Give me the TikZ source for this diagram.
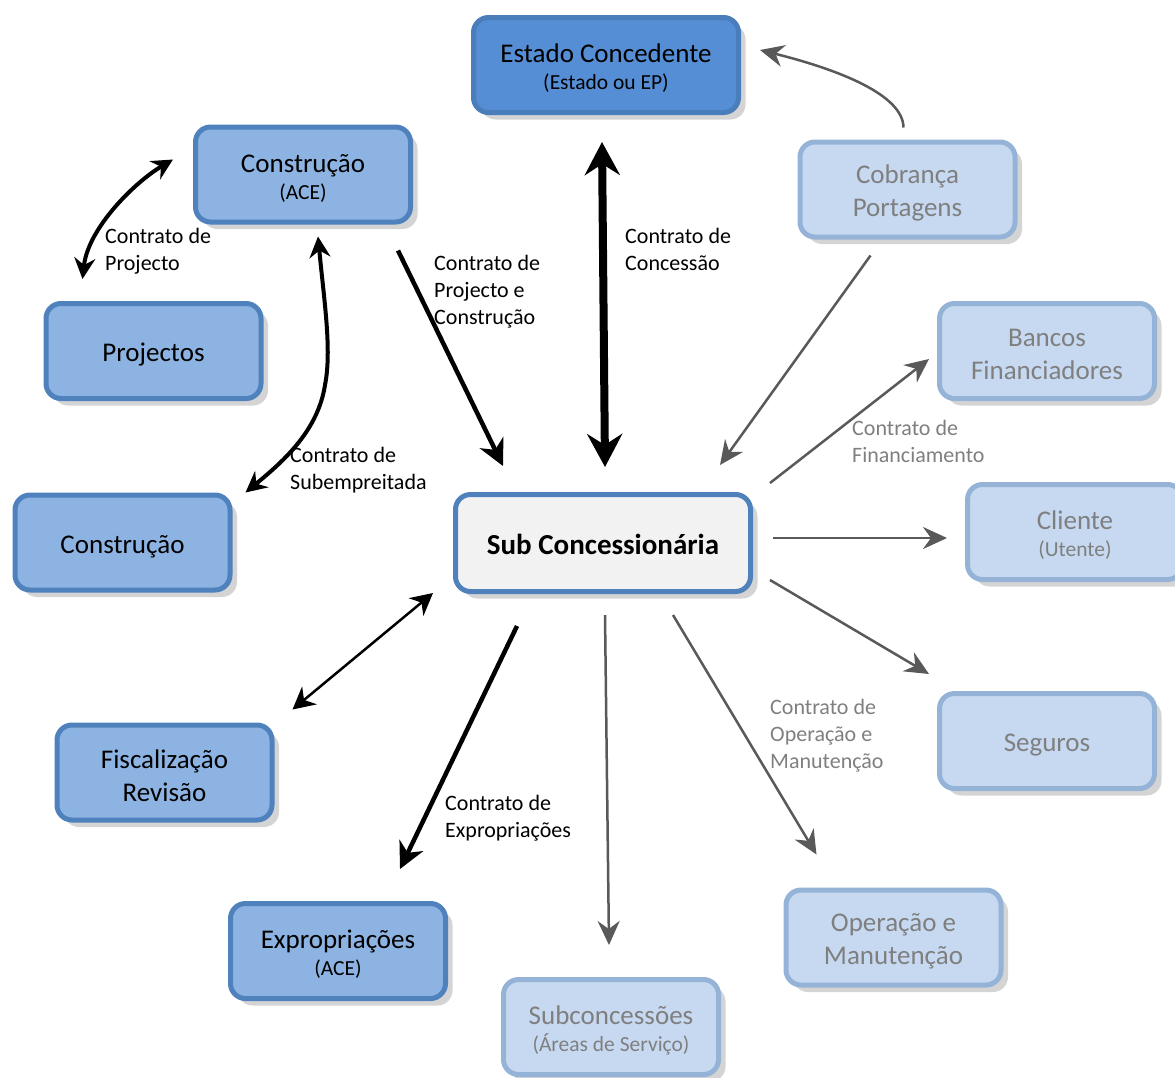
\documentclass[tikz,border=0pt]{standalone}
\usepackage{fontspec}
\setmainfont{Carlito}
\usetikzlibrary{arrows.meta,shadows,calc}

\definecolor{estfill}{HTML}{558ED5}
\definecolor{estline}{HTML}{4A7EBB}
\definecolor{midfill}{HTML}{8DB3E2}
\definecolor{midline}{HTML}{4F81BD}
\definecolor{lightfill}{HTML}{C6D9F1}
\definecolor{lightline}{HTML}{95B3D7}
\definecolor{subfill}{HTML}{F2F2F2}
\definecolor{greytext}{HTML}{7F7F7F}
\definecolor{greyarrow}{HTML}{595959}
\definecolor{shade}{HTML}{D4D4D4}

% second, smaller line of a box
\newcommand{\smallline}[1]{{\fontsize{21.5}{25}\selectfont #1}}
% extra room above the first line, to sit the text a little lower
\newcommand{\toproom}{\rule{0pt}{25pt}}

\begin{document}
\begin{tikzpicture}[x=1pt,y=-1pt,
  box/.style={rounded corners=15pt, line width=5pt, minimum width=215pt,
    minimum height=95pt, align=center, inner sep=2pt,
    font=\fontsize{27}{33}\selectfont,
    drop shadow={shadow xshift=7pt, shadow yshift=-7pt, fill=shade, opacity=1}},
  estbox/.style={box, fill=estfill, draw=estline, minimum width=265pt},
  midbox/.style={box, fill=midfill, draw=midline},
  lightbox/.style={box, fill=lightfill, draw=lightline, text=greytext},
  subbox/.style={box, fill=subfill, draw=midline, minimum width=295pt,
    minimum height=97pt, font=\bfseries\fontsize{29}{33}\selectfont},
  lbl/.style={align=left, anchor=north west, inner sep=0pt,
    font=\fontsize{22}{27}\selectfont},
  greylbl/.style={lbl, text=greytext},
  bigarrow/.style={line width=8pt,
    {Stealth[length=33pt,width=35pt,inset=11pt]}-{Stealth[length=33pt,width=35pt,inset=11pt]}},
  blackarrow/.style={line width=4.5pt, -{Stealth[length=26pt,width=26pt,inset=8pt]}},
  curvearrow/.style={line width=4pt,
    {Stealth[length=21pt,width=21pt,inset=7pt]}-{Stealth[length=21pt,width=21pt,inset=7pt]}},
  thinarrow/.style={line width=2.5pt,
    {Stealth[length=22pt,width=23pt,inset=7pt]}-{Stealth[length=22pt,width=23pt,inset=7pt]}},
  greyarrow/.style={draw=greyarrow, line width=2.5pt,
    -{Stealth[length=24pt,width=22pt,inset=8pt]}},
]
\useasboundingbox (0,0) rectangle (1175,1077);

% boxes
\node[estbox] (est) at (606,65) {\toproom Estado Concedente\\[-6pt]\smallline{(Estado ou EP)}};
\node[midbox] (cace) at (303,174.5) {\toproom Construção\\[-6pt]\smallline{(ACE)}};
\node[midbox] (proj) at (153.5,351) {\rule{0pt}{26pt}Projectos};
\node[midbox] (cons) at (122.5,542.5) {\rule{0pt}{26pt}Construção};
\node[midbox] (fisc) at (164.5,772.5) {\toproom Fiscalização\\Revisão};
\node[midbox] (expr) at (338,951) {\toproom Expropriações\\[-6pt]\smallline{(ACE)}};
\node[subbox] (sub) at (603,543) {\rule{0pt}{24pt}Sub Concessionária};
\node[lightbox] (cob) at (907.5,189.5) {\toproom Cobrança\\Portagens};
\node[lightbox] (banc) at (1047,351) {\toproom Bancos\\Financiadores};
\node[lightbox] (cli) at (1075,532) {\toproom Cliente\\[-6pt]\smallline{(Utente)}};
\node[lightbox] (seg) at (1047,741) {\rule{0pt}{26pt}Seguros};
\node[lightbox] (oper) at (893.5,937.5) {\toproom Operação e\\Manutenção};
\node[lightbox] (subc) at (611,1027) {\toproom Subconcessões\\[-6pt]\smallline{(Áreas de Serviço)}};

% contract labels
\node[lbl] (lproj) at (105,228) {Contrato de\\Projecto};
\node[lbl] (lpc) at (434,255) {Contrato de\\Projecto e\\Construção};
\node[lbl] (lconc) at (625,228) {Contrato de\\Concessão};
\node[lbl] (lsubemp) at (290,447) {Contrato de\\Subempreitada};
\node[greylbl] (lfin) at (852,420) {Contrato de\\Financiamento};
\node[greylbl] (lom) at (770,699) {Contrato de\\Operação e\\Manutenção};
\node[lbl] (lexp) at (445,795) {Contrato de\\Expropriações};

% black connectors
\draw[bigarrow] ($(est.south)+(-4,27)$) -- ($(sub.north)+(2,-25)$);
\draw[blackarrow] ($(cace.south)+(95,26)$) -- ($(sub.north)+(-100,-26)$);
\draw[curvearrow] ($(cace.west)+(-20,-15)$) .. controls (135,182) and (88,228) .. ($(proj.north)+(-71,-22)$);
\draw[curvearrow] ($(cace.south)+(15,12)$) .. controls (324,300) and (332,350) .. (325,385)
  .. controls (318,430) and (285,460) .. ($(cons.north east)+(13,0)$);
\draw[thinarrow] ($(fisc.north east)+(18,-13)$) -- ($(sub.south west)+(-20,-1)$);
\draw[blackarrow] ($(sub.south)+(-86,32)$) -- ($(expr.north)+(62,-32)$);

% grey connectors
\draw[greyarrow] ($(sub.south)+(2,21)$) -- ($(subc.north)+(-2,-32)$);
\draw[greyarrow] ($(sub.south)+(70,21)$) -- ($(oper.north)+(-77,-33)$);
\draw[greyarrow] ($(sub.east)+(17,37)$) -- ($(seg.west)+(-8,-67)$);
\draw[greyarrow] ($(sub.east)+(20,-5)$) -- ($(cli.west)+(-18,6)$);
\draw[greyarrow] ($(sub.north east)+(17,-9)$) -- ($(banc.west)+(-8,8)$);
\draw[greyarrow] ($(cob.south)+(-37,16)$) -- ($(sub.north east)+(-33,-27)$);
\draw[greyarrow] ($(cob.north)+(-4,-12)$) .. controls (903,95) and (840,70) .. ($(est.east)+(19,-15)$);
\end{tikzpicture}
\end{document}
